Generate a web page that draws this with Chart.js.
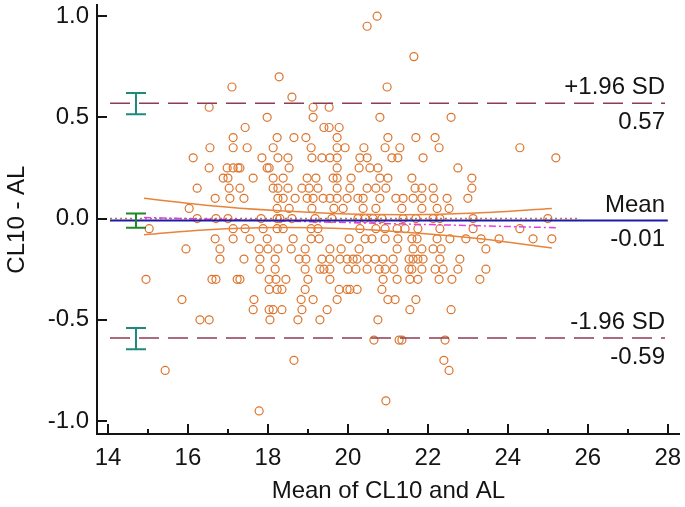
<!DOCTYPE html>
<html>
<head>
<meta charset="utf-8">
<script src="https://cdn.jsdelivr.net/npm/chart.js@4.4.1/dist/chart.umd.min.js"></script>
<style>
  body { margin: 0; background: #fff; }
</style>
</head>
<body>
<canvas id="myChart" width="685" height="507"></canvas>
<script>
// difference rows (values come in steps of 0.05) and the means found on each row
const rowDiffs = [1.0, 0.95, 0.8, 0.7, 0.65, 0.6, 0.55, 0.5, 0.45, 0.4, 0.35, 0.3, 0.25, 0.2, 0.15, 0.1, 0.05, 0.0,
  -0.05, -0.1, -0.15, -0.2, -0.25, -0.3, -0.35, -0.4, -0.45, -0.5, -0.6, -0.7, -0.75, -0.9, -0.95];
const rowMeans = [
  [20.73],
  [20.48],
  [21.65],
  [18.28],
  [17.1, 20.98],
  [18.6],
  [16.53, 19.13, 19.53],
  [17.98, 19.13, 20.8, 22.58],
  [17.43, 19.4, 19.53, 19.78],
  [17.13, 18.23, 18.65, 18.95, 19.73, 21.0, 21.7, 22.18],
  [16.55, 17.13, 17.48, 18.13, 19.08, 19.73, 19.93, 20.4, 20.93, 21.3, 22.28, 24.3],
  [16.13, 17.85, 18.25, 18.5, 19.1, 19.35, 19.55, 19.73, 20.3, 20.48, 21.1, 21.25, 21.88, 25.2],
  [16.53, 16.98, 17.13, 17.25, 17.3, 17.98, 18.03, 18.53, 19.73, 20.28, 20.55, 20.75, 22.75],
  [16.88, 17.0, 17.63, 18.13, 18.38, 18.98, 19.2, 19.63, 19.73, 20.08, 20.8, 21.0, 21.6, 23.1],
  [16.23, 17.03, 17.3, 18.13, 18.25, 18.5, 18.85, 19.03, 19.25, 19.73, 20.05, 20.48, 20.7, 20.95, 21.68, 21.85, 22.13, 23.1],
  [16.68, 17.05, 17.4, 18.25, 18.38, 18.68, 18.98, 19.13, 19.38, 19.55, 19.73, 19.98, 20.25, 20.38, 20.8, 21.2, 21.38, 21.63, 21.85, 22.15, 22.48, 23.0],
  [16.03, 18.23, 18.53, 19.1, 19.65, 19.88, 20.38, 20.7, 21.35, 21.85, 22.23, 22.53],
  [16.23, 16.7, 17.0, 17.83, 18.23, 18.3, 18.6, 19.18, 19.6, 20.25, 20.43, 20.63, 20.85, 21.38, 21.7, 22.13, 22.3, 23.13, 25.0],
  [15.03, 17.13, 17.43, 17.88, 18.23, 18.38, 19.08, 19.25, 20.3, 20.7, 20.93, 21.23, 21.43, 21.75, 22.3, 23.13, 24.3],
  [16.68, 17.13, 17.55, 17.98, 18.63, 19.08, 19.28, 20.03, 20.43, 20.6, 20.93, 21.25, 21.6, 21.73, 22.23, 22.55, 22.95, 23.33, 23.78, 24.63, 25.1],
  [15.95, 16.8, 17.78, 18.0, 18.25, 18.58, 18.93, 19.55, 19.83, 20.28, 21.23, 21.63, 21.85, 22.13, 22.33, 23.45],
  [16.8, 17.4, 17.8, 18.18, 18.78, 18.95, 19.35, 19.55, 19.8, 19.98, 20.13, 20.23, 20.48, 20.68, 20.88, 21.13, 21.53, 21.63, 21.75, 21.88, 22.3, 22.8],
  [17.8, 18.18, 18.93, 19.3, 19.4, 19.55, 20.0, 20.2, 20.48, 20.78, 20.93, 21.15, 21.53, 21.6, 21.85, 22.18, 22.38, 22.75, 23.45],
  [14.95, 16.6, 16.7, 17.23, 17.3, 18.03, 18.2, 18.45, 19.0, 19.55, 20.88, 21.23, 21.55, 21.75, 22.28, 22.6, 23.3],
  [18.03, 18.23, 18.35, 18.93, 19.78, 19.98, 20.05, 20.23, 20.85],
  [15.85, 17.65, 18.83, 19.13, 19.73, 21.0, 21.18, 21.7],
  [17.63, 18.03, 18.13, 18.35, 18.85, 19.48, 21.55, 22.58],
  [16.3, 16.53, 18.05, 18.75, 19.3, 20.75],
  [20.65, 21.28, 21.35, 22.43],
  [18.65, 22.4],
  [15.43, 22.53],
  [20.95],
  [17.78]
];

// agreement statistics
const meanDiff = -0.01;
const upperLoA = 0.57;
const lowerLoA = -0.59;
const lineStart = 14.05;
const lineEnd = 27.93;
const meanLineEnd = 28.0;

// confidence intervals drawn as I-bars at the left
const ciX = 14.7;
const upperCI = [0.515, 0.62];
const meanCI = [-0.045, 0.025];
const lowerCI = [-0.645, -0.54];

// regression line and its confidence band
const regLine = [[14.9, 0.005], [25.2, -0.045]];
const regUpper = [[14.9, 0.10], [16.5, 0.065], [18.2, 0.04], [20, 0.023], [22, 0.02], [23.5, 0.03], [25.1, 0.05]];
const regLower = [[14.9, -0.08], [16.5, -0.055], [18.2, -0.044], [20, -0.05], [21.6, -0.07], [23.3, -0.1], [25.1, -0.145]];
const zeroLine = [[14.05, 0], [25.8, 0]];

const xTicks = [14, 16, 18, 20, 22, 24, 26, 28];
const xMinorTicks = [15, 17, 19, 21, 23, 25, 27];
const yTicks = [-1.0, -0.5, 0.0, 0.5, 1.0];

const points = [];
rowDiffs.forEach((d, i) => rowMeans[i].forEach(m => points.push({x: m, y: d})));
const toXY = arr => arr.map(p => ({x: p[0], y: p[1]}));

const FONT = "'Liberation Sans', Arial, sans-serif";
const ink = '#141414';

const overlay = {
  id: 'overlay',
  afterDatasetsDraw(chart) {
    const {ctx, scales: {x, y}, chartArea} = chart;
    ctx.save();
    // inward ticks
    ctx.strokeStyle = ink;
    ctx.lineWidth = 2;
    xTicks.forEach(v => {
      const px = Math.round(x.getPixelForValue(v));
      ctx.beginPath(); ctx.moveTo(px, chartArea.bottom); ctx.lineTo(px, chartArea.bottom - 10); ctx.stroke();
    });
    xMinorTicks.forEach(v => {
      const px = Math.round(x.getPixelForValue(v));
      ctx.beginPath(); ctx.moveTo(px, chartArea.bottom); ctx.lineTo(px, chartArea.bottom - 5); ctx.stroke();
    });
    yTicks.forEach(v => {
      const py = Math.round(y.getPixelForValue(v));
      ctx.beginPath(); ctx.moveTo(chartArea.left, py); ctx.lineTo(chartArea.left + 10, py); ctx.stroke();
    });

    // CI bars
    const bar = (range, color) => {
      const px = x.getPixelForValue(ciX);
      const top = y.getPixelForValue(range[1]);
      const bot = y.getPixelForValue(range[0]);
      ctx.strokeStyle = color;
      ctx.lineWidth = 2;
      ctx.beginPath();
      ctx.moveTo(px, top); ctx.lineTo(px, bot);
      ctx.moveTo(px - 10, top); ctx.lineTo(px + 10, top);
      ctx.moveTo(px - 10, bot); ctx.lineTo(px + 10, bot);
      ctx.stroke();
    };
    bar(upperCI, '#1f8a7c');
    bar(meanCI, '#1f8a24');
    bar(lowerCI, '#1f8a7c');

    // labels on the right
    ctx.fillStyle = ink;
    ctx.font = '24px ' + FONT;
    ctx.textAlign = 'right';
    const rx = x.getPixelForValue(lineEnd);
    const label = (val, above, below) => {
      const py = y.getPixelForValue(val);
      ctx.textBaseline = 'alphabetic';
      ctx.fillText(above, rx, py - 9);
      ctx.textBaseline = 'top';
      ctx.fillText(below, rx, py + 7);
    };
    label(upperLoA, '+1.96 SD', upperLoA.toFixed(2));
    label(meanDiff, 'Mean', meanDiff.toFixed(2));
    label(lowerLoA, '-1.96 SD', lowerLoA.toFixed(2));
    ctx.restore();
  }
};

const ctx = document.getElementById('myChart');

new Chart(ctx, {
  type: 'scatter',
  data: {
    datasets: [
      {
        data: [{x: lineStart, y: upperLoA}, {x: lineEnd, y: upperLoA}],
        showLine: true, borderColor: '#8e3b55', borderWidth: 1.5, borderDash: [20, 9], pointRadius: 0
      },
      {
        data: [{x: lineStart, y: lowerLoA}, {x: lineEnd, y: lowerLoA}],
        showLine: true, borderColor: '#8e3b55', borderWidth: 1.5, borderDash: [20, 9], pointRadius: 0
      },
      {
        data: [{x: lineStart, y: meanDiff}, {x: meanLineEnd, y: meanDiff}],
        showLine: true, borderColor: '#1c1ca8', borderWidth: 2, pointRadius: 0
      },
      {
        data: toXY(regLine),
        showLine: true, borderColor: '#e040e0', borderWidth: 1.5, borderDash: [7, 3, 2, 3], pointRadius: 0
      },
      {
        data: toXY(zeroLine),
        showLine: true, borderColor: '#c8703c', borderWidth: 1.5, borderDash: [2, 3], pointRadius: 0
      },
      {
        data: toXY(regUpper),
        showLine: true, borderColor: '#e8843a', borderWidth: 1.5, tension: 0.4, pointRadius: 0
      },
      {
        data: toXY(regLower),
        showLine: true, borderColor: '#e8843a', borderWidth: 1.5, tension: 0.4, pointRadius: 0
      },
      {
        data: points,
        pointRadius: 4,
        pointBorderWidth: 1.2,
        pointBorderColor: '#dc742c',
        pointBackgroundColor: 'rgba(0,0,0,0)'
      }
    ]
  },
  options: {
    responsive: false,
    animation: false,
    devicePixelRatio: 1,
    layout: { padding: { left: 0, top: 2, right: 5, bottom: 0 } },
    plugins: { legend: { display: false }, tooltip: { enabled: false } },
    scales: {
      x: {
        type: 'linear',
        min: 13.725,
        max: 28.3,
        afterFit: s => { s.height = 73; s.paddingLeft = 0; s.paddingRight = 0; },
        grid: { display: false, drawTicks: false, tickLength: 0 },
        border: { display: true, color: ink, width: 2 },
        ticks: {
          stepSize: 2,
          includeBounds: false,
          padding: 10,
          color: ink,
          font: { size: 24, family: FONT }
        },
        title: {
          display: true,
          text: 'Mean of CL10 and AL',
          color: ink,
          padding: { top: 0, bottom: 1 },
          font: { size: 24, family: FONT }
        }
      },
      y: {
        type: 'linear',
        min: -1.064,
        max: 1.054,
        afterFit: s => { s.width = 97; s.paddingTop = 0; s.paddingBottom = 0; },
        grid: { display: false, drawTicks: false, tickLength: 0 },
        border: { display: true, color: ink, width: 2 },
        ticks: {
          stepSize: 0.5,
          includeBounds: false,
          padding: 8,
          color: ink,
          font: { size: 24, family: FONT },
          callback: v => v.toFixed(1)
        },
        title: {
          display: true,
          text: 'CL10 - AL',
          color: ink,
          padding: { top: 3, bottom: 0 },
          font: { size: 24, family: FONT }
        }
      }
    }
  },
  plugins: [overlay]
});
</script>
</body>
</html>
